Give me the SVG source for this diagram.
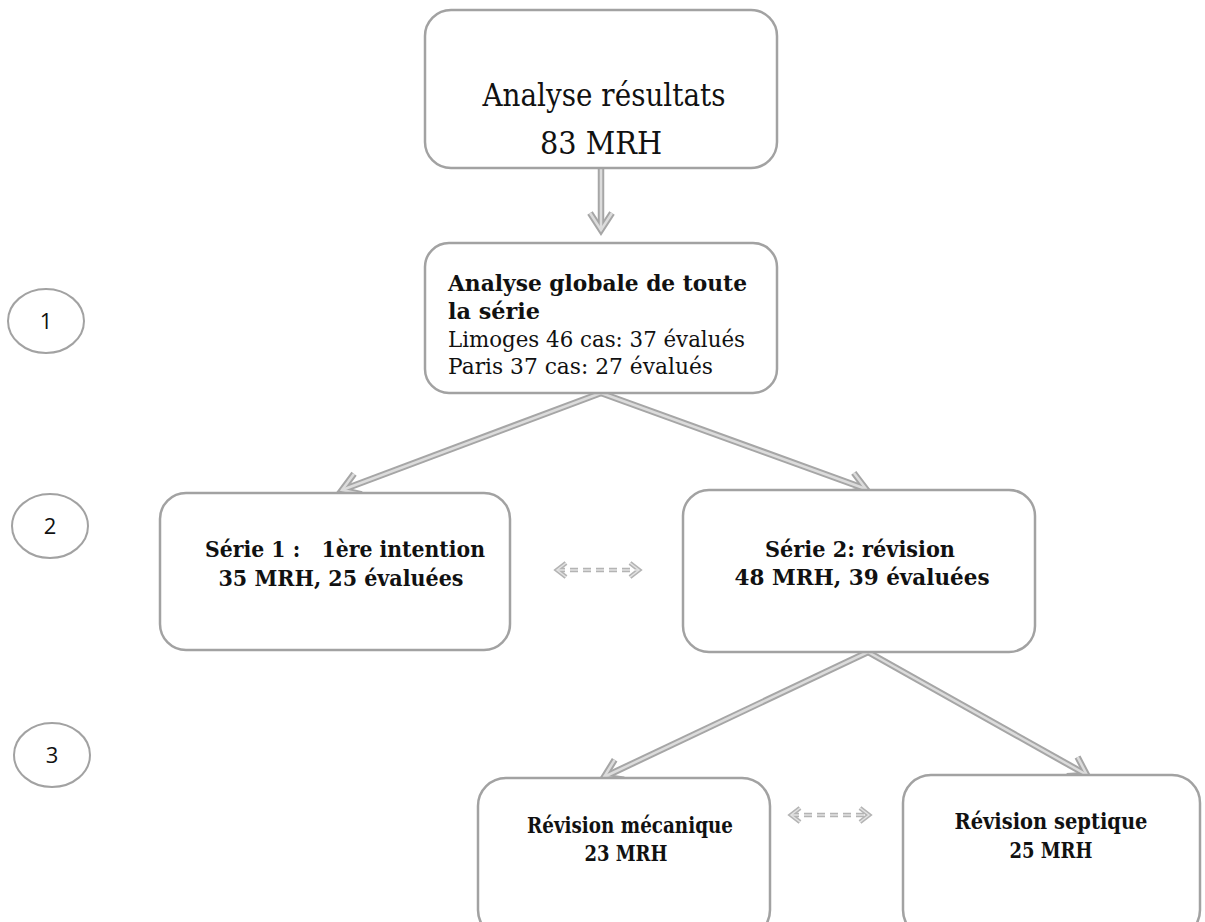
<svg xmlns="http://www.w3.org/2000/svg" width="1205" height="922" viewBox="0 0 1205 922">
<style>
.box{fill:#fff;stroke:#a2a2a2;stroke-width:2.5}
.circ{fill:#fff;stroke:#a2a2a2;stroke-width:2}
.t{font-family:"DejaVu Serif","Liberation Serif",serif;fill:#111}
.b{font-weight:bold}
.num{font-family:"Open Sans","Liberation Sans",sans-serif;font-size:22px;fill:#111;text-anchor:middle}
.ao{stroke:#a6a6a6;stroke-width:6.5;fill:none}
.ai{stroke:#dcdcdc;stroke-width:2.5;fill:none}
.do{stroke:#b4b4b4;stroke-width:4.5;fill:none;stroke-dasharray:8,5}
.di{stroke:#e2e2e2;stroke-width:1.5;fill:none;stroke-dasharray:8,5}
</style>
<defs>
<marker id="ho" markerWidth="32" markerHeight="32" refX="22" refY="16" orient="auto-start-reverse" markerUnits="userSpaceOnUse">
<path d="M5,5 L22,16 L5,27" fill="none" stroke="#a6a6a6" stroke-width="6.5" stroke-linejoin="miter"/>
</marker>
<marker id="hi" markerWidth="32" markerHeight="32" refX="22" refY="16" orient="auto-start-reverse" markerUnits="userSpaceOnUse">
<path d="M5,5 L22,16 L5,27" fill="none" stroke="#dcdcdc" stroke-width="2.5" stroke-linejoin="miter"/>
</marker>
<marker id="so" markerWidth="20" markerHeight="20" refX="14" refY="10" orient="auto-start-reverse" markerUnits="userSpaceOnUse">
<path d="M5,3 L14,10 L5,17" fill="none" stroke="#b4b4b4" stroke-width="4.5"/>
</marker>
<marker id="si" markerWidth="20" markerHeight="20" refX="14" refY="10" orient="auto-start-reverse" markerUnits="userSpaceOnUse">
<path d="M5,3 L14,10 L5,17" fill="none" stroke="#e2e2e2" stroke-width="1.5"/>
</marker>
</defs>
<g id="connectors">
<path class="ao" d="M601,168 L601,230" marker-end="url(#ho)"/>
<path class="ao" d="M601,393 L342,490" marker-end="url(#ho)"/>
<path class="ao" d="M601,393 L866,489" marker-end="url(#ho)"/>
<path class="ao" d="M868,652 L604,777" marker-end="url(#ho)"/>
<path class="ao" d="M868,652 L1087,775" marker-end="url(#ho)"/>
<path class="ai" d="M601,168 L601,230" marker-end="url(#hi)"/>
<path class="ai" d="M601,393 L342,490" marker-end="url(#hi)"/>
<path class="ai" d="M601,393 L866,489" marker-end="url(#hi)"/>
<path class="ai" d="M868,652 L604,777" marker-end="url(#hi)"/>
<path class="ai" d="M868,652 L1087,775" marker-end="url(#hi)"/>
<path class="do" d="M557,570 L639,570" marker-start="url(#so)" marker-end="url(#so)"/>
<path class="di" d="M557,570 L639,570" marker-start="url(#si)" marker-end="url(#si)"/>
<path class="do" d="M791,815 L869,815" marker-start="url(#so)" marker-end="url(#so)"/>
<path class="di" d="M791,815 L869,815" marker-start="url(#si)" marker-end="url(#si)"/>
</g>
<g id="n-top">
<rect class="box" x="425" y="10" width="352" height="158" rx="26"/>
<text class="t" x="604" y="106" font-size="31" text-anchor="middle" textLength="243" lengthAdjust="spacingAndGlyphs">Analyse résultats</text>
<text class="t" x="601" y="154" font-size="31" text-anchor="middle" textLength="122" lengthAdjust="spacingAndGlyphs">83 MRH</text>
</g>
<g id="n-global">
<rect class="box" x="425" y="243" width="352" height="150" rx="24"/>
<text class="t b" x="448" y="291" font-size="22" textLength="299" lengthAdjust="spacingAndGlyphs">Analyse globale de toute</text>
<text class="t b" x="448" y="319" font-size="22" textLength="92" lengthAdjust="spacingAndGlyphs">la série</text>
<text class="t" x="448" y="347" font-size="22" textLength="297" lengthAdjust="spacingAndGlyphs">Limoges 46 cas: 37 évalués</text>
<text class="t" x="448" y="374" font-size="22" textLength="265" lengthAdjust="spacingAndGlyphs">Paris 37 cas: 27 évalués</text>
</g>
<g id="n-serie1">
<rect class="box" x="160" y="493" width="350" height="157" rx="26"/>
<text class="t b" x="345" y="557" font-size="22.5" text-anchor="middle" xml:space="preserve" textLength="280" lengthAdjust="spacingAndGlyphs">Série 1 :   1ère intention</text>
<text class="t b" x="341" y="586" font-size="22.5" text-anchor="middle" textLength="245" lengthAdjust="spacingAndGlyphs">35 MRH, 25 évaluées</text>
</g>
<g id="n-serie2">
<rect class="box" x="683" y="490" width="352" height="162" rx="26"/>
<text class="t b" x="860" y="557" font-size="22.5" text-anchor="middle" textLength="190" lengthAdjust="spacingAndGlyphs">Série 2: révision</text>
<text class="t b" x="862" y="585" font-size="22.5" text-anchor="middle" textLength="255" lengthAdjust="spacingAndGlyphs">48 MRH, 39 évaluées</text>
</g>
<g id="n-meca">
<rect class="box" x="478" y="778" width="292" height="160" rx="28"/>
<text class="t b" x="630" y="833" font-size="22" text-anchor="middle" textLength="206" lengthAdjust="spacingAndGlyphs">Révision mécanique</text>
<text class="t b" x="626" y="861" font-size="22" text-anchor="middle" textLength="83" lengthAdjust="spacingAndGlyphs">23 MRH</text>
</g>
<g id="n-sept">
<rect class="box" x="903" y="775" width="297" height="163" rx="28"/>
<text class="t b" x="1051" y="829" font-size="22" text-anchor="middle" textLength="193" lengthAdjust="spacingAndGlyphs">Révision septique</text>
<text class="t b" x="1051" y="858" font-size="22" text-anchor="middle" textLength="83" lengthAdjust="spacingAndGlyphs">25 MRH</text>
</g>
<g id="c1"><ellipse class="circ" cx="46" cy="321" rx="38" ry="32"/><text class="num" x="46" y="329">1</text></g>
<g id="c2"><ellipse class="circ" cx="50" cy="526" rx="38" ry="32"/><text class="num" x="50" y="534">2</text></g>
<g id="c3"><ellipse class="circ" cx="52" cy="755" rx="38" ry="32"/><text class="num" x="52" y="763">3</text></g>
</svg>
